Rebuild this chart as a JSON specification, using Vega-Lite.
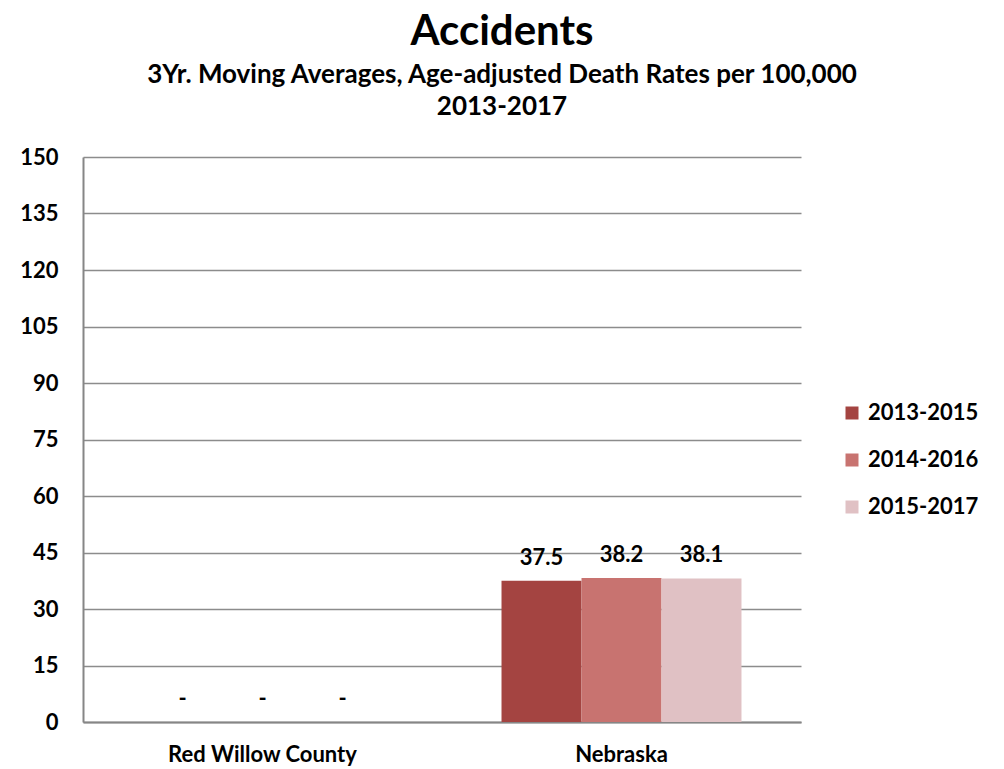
{
  "$schema": "https://vega.github.io/schema/vega-lite/v6.json",
  "width": 718,
  "height": 565,
  "autosize": "none",
  "padding": {"left": 83, "top": 157, "right": 203, "bottom": 47},
  "background": "white",
  "title": {
    "text": "Accidents",
    "subtitle": ["3Yr. Moving Averages, Age-adjusted Death Rates per 100,000", "2013-2017"],
    "anchor": "middle",
    "frame": "group",
    "dx": 60,
    "offset": 25,
    "font": "Lato",
    "fontSize": 42,
    "fontWeight": "bold",
    "color": "black",
    "subtitleFont": "Lato",
    "subtitleFontSize": 26,
    "subtitleFontWeight": "bold",
    "subtitleColor": "black",
    "subtitleLineHeight": 32,
    "subtitlePadding": 8
  },
  "data": {
    "values": [
      {"region": "Red Willow County", "period": "2013-2015", "rate": 0, "label": "-"},
      {"region": "Red Willow County", "period": "2014-2016", "rate": 0, "label": "-"},
      {"region": "Red Willow County", "period": "2015-2017", "rate": 0, "label": "-"},
      {"region": "Nebraska", "period": "2013-2015", "rate": 37.5, "label": "37.5"},
      {"region": "Nebraska", "period": "2014-2016", "rate": 38.2, "label": "38.2"},
      {"region": "Nebraska", "period": "2015-2017", "rate": 38.1, "label": "38.1"}
    ]
  },
  "encoding": {
    "x": {
      "field": "region",
      "type": "nominal",
      "sort": ["Red Willow County", "Nebraska"],
      "scale": {"paddingInner": 0, "paddingOuter": 0},
      "axis": {
        "title": null,
        "labelAngle": 0,
        "ticks": false,
        "labelLimit": 0,
        "labelPadding": 22,
        "labelFont": "Lato",
        "labelFontSize": 22,
        "labelFontWeight": "bold",
        "labelColor": "black",
        "domainColor": "#868686",
        "domainWidth": 2
      }
    },
    "xOffset": {
      "field": "period",
      "type": "nominal",
      "scale": {"paddingInner": 0, "paddingOuter": 0.744}
    },
    "y": {
      "field": "rate",
      "type": "quantitative",
      "scale": {"domain": [0, 150], "nice": false},
      "axis": {
        "title": null,
        "values": [0, 15, 30, 45, 60, 75, 90, 105, 120, 135, 150],
        "ticks": false,
        "labelPadding": 25,
        "labelFont": "Lato",
        "labelFontSize": 22,
        "labelFontWeight": "bold",
        "labelColor": "black",
        "domainColor": "#868686",
        "domainWidth": 2,
        "gridColor": "#8c8c8c",
        "gridWidth": 1.3
      }
    }
  },
  "layer": [
    {
      "mark": {"type": "bar"},
      "encoding": {
        "color": {
          "field": "period",
          "type": "nominal",
          "scale": {"domain": ["2013-2015", "2014-2016", "2015-2017"], "range": ["#A44441", "#C87370", "#E0C1C4"]},
          "legend": {
            "title": null,
            "orient": "none",
            "legendX": 758,
            "legendY": 245,
            "symbolType": "square",
            "symbolSize": 169,
            "symbolStrokeWidth": 0,
            "labelFont": "Lato",
            "labelFontSize": 22,
            "labelFontWeight": "bold",
            "labelColor": "black",
            "rowPadding": 25,
            "labelOffset": 5
          }
        }
      }
    },
    {
      "mark": {"type": "text", "dy": -23, "font": "Lato", "fontSize": 22, "fontWeight": "bold", "color": "black", "baseline": "middle"},
      "encoding": {
        "text": {"field": "label", "type": "nominal"}
      }
    }
  ],
  "config": {"view": {"stroke": null}}
}
